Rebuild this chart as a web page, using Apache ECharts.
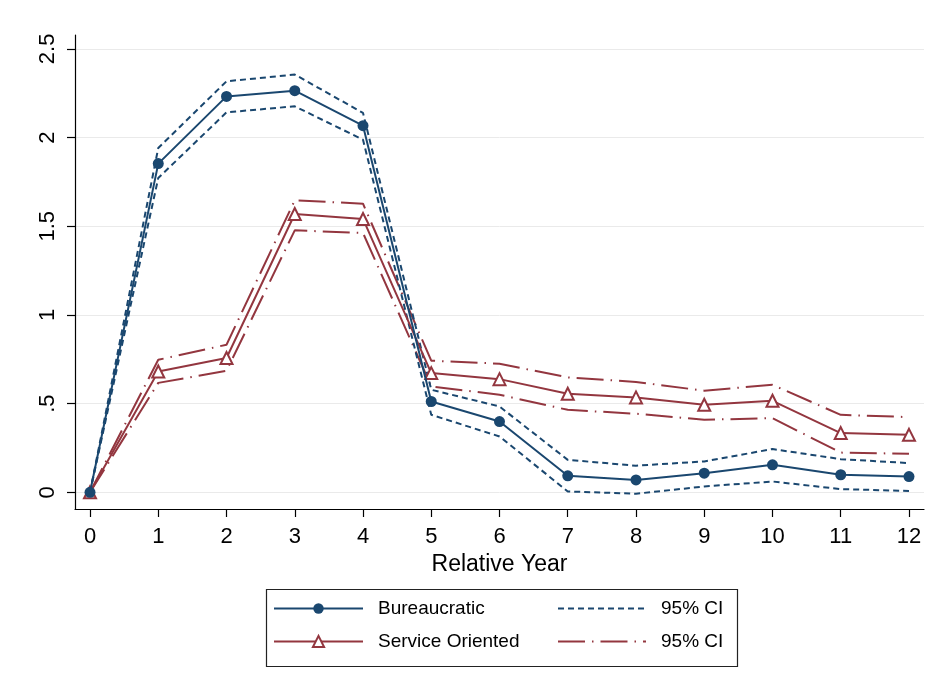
<!DOCTYPE html>
<html>
<head>
<meta charset="utf-8">
<script src="https://cdn.jsdelivr.net/npm/echarts@6/dist/echarts.min.js"></script>
<style>
html,body{margin:0;padding:0;background:#fff;}
#chart{width:939px;height:694px;}
</style>
</head>
<body>
<div id="chart"></div>
<script>
const years = [0,1,2,3,4,5,6,7,8,9,10,11,12];
const bureaucratic      = [0, 1.853, 2.232, 2.264, 2.067, 0.512, 0.399, 0.093, 0.070, 0.108, 0.155, 0.099, 0.089];
const bureaucraticUpper = [0, 1.941, 2.317, 2.355, 2.139, 0.578, 0.484, 0.183, 0.150, 0.174, 0.244, 0.187, 0.165];
const bureaucraticLower = [0, 1.772, 2.142, 2.176, 1.988, 0.437, 0.315, 0.005, -0.008, 0.033, 0.061, 0.018, 0.008];
const service      = [0, 0.681, 0.757, 1.569, 1.541, 0.672, 0.638, 0.556, 0.535, 0.494, 0.516, 0.334, 0.324];
const serviceUpper = [0, 0.747, 0.832, 1.646, 1.627, 0.742, 0.725, 0.648, 0.622, 0.573, 0.606, 0.437, 0.424];
const serviceLower = [0, 0.617, 0.685, 1.477, 1.462, 0.597, 0.550, 0.465, 0.443, 0.409, 0.418, 0.224, 0.217];
const yTickValues = [0, 0.5, 1, 1.5, 2, 2.5];
const yTickLabels = ['0', '.5', '1', '1.5', '2', '2.5'];
const xTickValues = years;
const xAxisTitle = 'Relative Year';
const legendNames = {bur: 'Bureaucratic', ciB: '95% CI', svc: 'Service Oriented', ciS: '95% CI'};

const BLUE = '#1a476f';
const RED = '#93363f';
const FONT = '"Liberation Sans", Arial, sans-serif';

function pairs(vals){ return years.map((x,i)=>[x, vals[i]]); }

const chart = echarts.init(document.getElementById('chart'), null, {renderer:'canvas'});

const ciBDash = [6, 4];
const ciSDash = [27, 7, 1.5, 7];

const option = {
  animation: false,
  backgroundColor: '#fff',
  grid: {left: 75, right: 15, top: 35, bottom: 185, containLabel: false},
  xAxis: {
    type: 'value', min: -0.22, max: 12.22,
    name: xAxisTitle, nameLocation: 'middle', nameGap: 38,
    nameTextStyle: {fontFamily: FONT, fontSize: 23, color: '#000'},
    axisLine: {show: true, onZero: false, lineStyle: {color: '#000', width: 1.2}},
    axisTick: {show: true, length: 8, customValues: xTickValues, lineStyle: {color: '#000', width: 1.2}},
    axisLabel: {customValues: xTickValues, margin: 17, fontFamily: FONT, fontSize: 22, color: '#000'},
    splitLine: {show: false}
  },
  yAxis: {
    type: 'value', min: -0.094, max: 2.578,
    axisLine: {show: true, onZero: false, lineStyle: {color: '#000', width: 1.2}},
    axisTick: {show: true, length: 8, customValues: yTickValues, lineStyle: {color: '#000', width: 1.2}},
    axisLabel: {
      customValues: yTickValues, rotate: 90, margin: 16,
      fontFamily: FONT, fontSize: 22, color: '#000',
      formatter: function(v){ const i = yTickValues.findIndex(t => Math.abs(t - v) < 1e-9); return i >= 0 ? yTickLabels[i] : ''; }
    },
    splitLine: {show: true, lineStyle: {color: '#eaeaea', width: 1}}
  },
  legend: [
    {data: ['bur'], left: 273, top: 599, padding: 0, itemWidth: 89, itemHeight: 13,
     formatter: n => legendNames[n], selectedMode: false,
     textStyle: {fontFamily: FONT, fontSize: 19, color: '#000', padding: [0,0,0,10]}},
    {data: ['svc'], left: 273, top: 632, padding: 0, itemWidth: 89, itemHeight: 14,
     formatter: n => legendNames[n], selectedMode: false,
     textStyle: {fontFamily: FONT, fontSize: 19, color: '#000', padding: [0,0,0,10]}},
    {data: ['ciB'], left: 557, top: 599, padding: 0, itemWidth: 88, itemHeight: 13,
     formatter: n => legendNames[n], selectedMode: false,
     itemStyle: {color: 'rgba(0,0,0,0)', borderColor: 'rgba(0,0,0,0)', borderWidth: 0},
     textStyle: {fontFamily: FONT, fontSize: 19, color: '#000', padding: [0,0,0,10]}},
    {data: ['ciS'], left: 557, top: 632, padding: 0, itemWidth: 88, itemHeight: 13,
     formatter: n => legendNames[n], selectedMode: false,
     itemStyle: {color: 'rgba(0,0,0,0)', borderColor: 'rgba(0,0,0,0)', borderWidth: 0},
     textStyle: {fontFamily: FONT, fontSize: 19, color: '#000', padding: [0,0,0,10]}}
  ],
  graphic: [
    {type: 'rect', left: 264, top: 587, shape: {width: 471, height: 77},
     style: {fill: 'none', stroke: '#222', lineWidth: 1.2}, silent: true}
  ],
  series: [
    {name: 'ciS', type: 'line', data: pairs(serviceUpper), symbol: 'none', color: RED,
     lineStyle: {color: RED, width: 2, type: ciSDash}, z: 2},
    {name: 'ciS', type: 'line', data: pairs(serviceLower), symbol: 'none', color: RED,
     lineStyle: {color: RED, width: 2, type: ciSDash}, z: 2},
    {name: 'ciB', type: 'line', data: pairs(bureaucraticUpper), symbol: 'none', color: BLUE,
     lineStyle: {color: BLUE, width: 2, type: ciBDash}, z: 3},
    {name: 'ciB', type: 'line', data: pairs(bureaucraticLower), symbol: 'none', color: BLUE,
     lineStyle: {color: BLUE, width: 2, type: ciBDash}, z: 3},
    {name: 'svc', type: 'line', data: pairs(service), symbol: 'emptyTriangle', symbolSize: 12,
     color: RED, lineStyle: {color: RED, width: 2}, itemStyle: {color: RED, borderColor: RED, borderWidth: 2}, z: 4},
    {name: 'bur', type: 'line', data: pairs(bureaucratic), symbol: 'circle', symbolSize: 11,
     color: BLUE, lineStyle: {color: BLUE, width: 2}, itemStyle: {color: BLUE}, z: 5}
  ]
};
chart.setOption(option);
</script>
</body>
</html>
